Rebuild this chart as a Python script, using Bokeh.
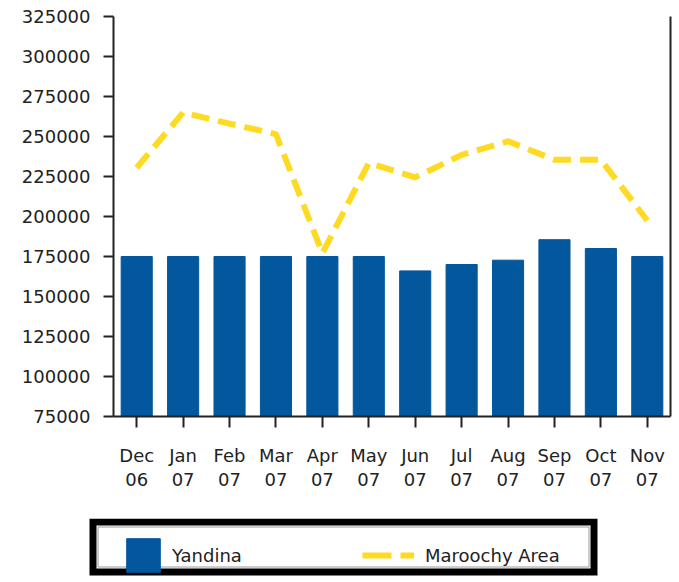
from bokeh.plotting import figure
from bokeh.models import (ColumnDataSource, FactorRange, Range1d, LinearAxis, CategoricalAxis,
                          FixedTicker, SingleIntervalTicker, BasicTickFormatter, Legend, LegendItem,
                          CustomJSTickFormatter, BoxAnnotation)
from bokeh.embed import file_html
from bokeh.resources import INLINE

month_names = ["Dec", "Jan", "Feb", "Mar", "Apr", "May",
               "Jun", "Jul", "Aug", "Sep", "Oct", "Nov"]
year_names = ["06", "07", "07", "07", "07", "07", "07", "07", "07", "07", "07", "07"]
yandina = [175000, 175000, 175000, 175000, 175000, 175000,
           166000, 170000, 172700, 185500, 180000, 175000]
maroochy = [230500, 265000, 258000, 251500, 177000, 233500,
            224500, 238500, 247000, 235500, 235500, 197500]
y_min, y_max, y_step = 75000, 325000, 25000

FONT = "DejaVu Sans"
FS = "18px"
TXT = "#222222"
BAR = "#03579C"
LINE = "#FFDA22"

src = ColumnDataSource(dict(month=month_names, yandina=yandina, maroochy=maroochy))

p = figure(x_range=FactorRange(*month_names), y_range=Range1d(y_min, y_max),
           width=679, height=518, output_backend="svg", toolbar_location=None,
           min_border_left=113, min_border_right=9, min_border_top=16, min_border_bottom=102)
p.x_range.range_padding = 0
p.outline_line_color = None
p.xgrid.grid_line_color = None
p.ygrid.grid_line_color = None

bars = p.vbar(x="month", top="yandina", width=0.67, source=src,
              fill_color=BAR, line_color=BAR)
line = p.line(x="month", y="maroochy", source=src, line_color=LINE,
              line_width=6, line_dash="18 9", line_join="round")

ya = p.yaxis[0]
ya.ticker = SingleIntervalTicker(interval=y_step)
ya.formatter = BasicTickFormatter(use_scientific=False)
ya.major_tick_in = 0
ya.major_tick_out = 10
ya.minor_tick_out = 0
ya.minor_tick_in = 0
ya.major_label_standoff = 13
ya.axis_line_width = 2
ya.major_tick_line_width = 2
ya.axis_line_color = TXT
ya.major_tick_line_color = TXT
ya.major_label_text_font = FONT
ya.major_label_text_font_size = FS
ya.major_label_text_color = TXT

xa = p.xaxis[0]
xa.major_tick_in = 0
xa.major_tick_out = 11
xa.major_label_standoff = 17
xa.axis_line_width = 2
xa.major_tick_line_width = 2
xa.axis_line_color = TXT
xa.major_tick_line_color = TXT
xa.major_label_text_font = FONT
xa.major_label_text_font_size = FS
xa.major_label_text_color = TXT

xa2 = CategoricalAxis(
    formatter=CustomJSTickFormatter(args=dict(factors=month_names, labels=year_names),
                                    code="return labels[factors.indexOf(tick)];"),
    axis_line_color=None, major_tick_in=0, major_tick_out=0,
    major_label_standoff=4, major_label_text_font=FONT,
    major_label_text_font_size=FS, major_label_text_color=TXT)
p.add_layout(xa2, "below")

ra = LinearAxis(ticker=FixedTicker(ticks=[]), axis_line_width=2, axis_line_color=TXT,
                major_tick_out=0, major_tick_in=0, minor_tick_out=0, minor_tick_in=0)
p.add_layout(ra, "right")

# legend strip
lg = figure(width=679, height=64, x_range=FactorRange(*month_names), y_range=Range1d(-2, -1),
            output_backend="svg", toolbar_location=None, min_border=0,
            x_axis_location=None, y_axis_location=None)
lg.outline_line_color = None
lg.grid.visible = False
lbars = lg.vbar(x="month", top="yandina", width=0.67, source=src,
                fill_color=BAR, line_color=BAR, visible=False)
lline = lg.line(x="month", y="maroochy", source=src, line_color=LINE,
                line_width=6, line_dash="29 9", visible=False)

lg.add_layout(BoxAnnotation(left=92.5, right=593.5, top=10.5, bottom=60.5,
                            left_units="screen", right_units="screen",
                            top_units="screen", bottom_units="screen",
                            fill_alpha=0, line_color="black", line_width=7, line_alpha=1,
                            line_join="miter"))
lg.add_layout(BoxAnnotation(left=97.5, right=588.5, top=15.5, bottom=55.5,
                            left_units="screen", right_units="screen",
                            top_units="screen", bottom_units="screen",
                            fill_alpha=0, line_color="#9a9a9a", line_width=1, line_alpha=1,
                            line_join="miter"))

common = dict(orientation="horizontal", margin=0, padding=0, border_line_color=None,
              background_fill_alpha=0, label_text_font=FONT,
              label_text_font_size=FS, label_text_color=TXT)
leg1 = Legend(items=[LegendItem(label="Yandina", renderers=[lbars])],
              location=(122, 6), glyph_width=42, glyph_height=42,
              label_standoff=8, **common)
leg2 = Legend(items=[LegendItem(label="Maroochy Area", renderers=[lline])],
              location=(362, 10), glyph_width=52, glyph_height=34,
              label_standoff=11, **common)
lg.add_layout(leg1, "center")
lg.add_layout(leg2, "center")

open("out.html", "w").write(file_html([p, lg], INLINE))
